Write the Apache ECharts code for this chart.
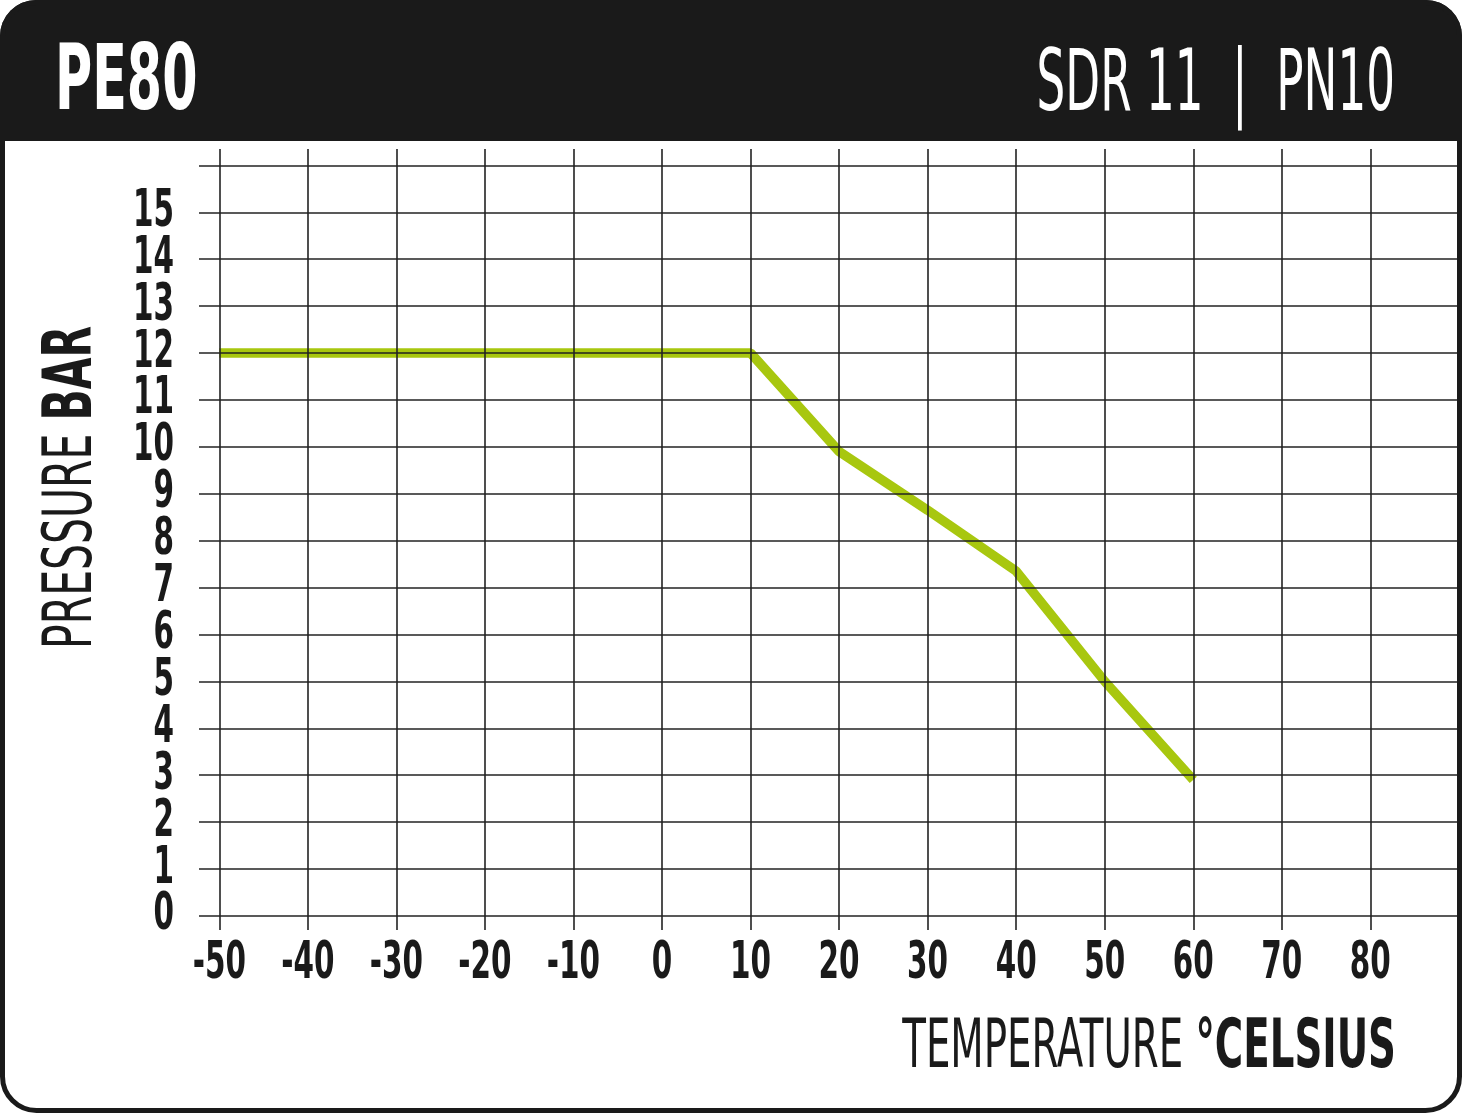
<!DOCTYPE html>
<html><head><meta charset="utf-8">
<script src="https://cdn.jsdelivr.net/npm/echarts@6/dist/echarts.min.js"></script>
<style>html,body{margin:0;padding:0;background:#fff}#c{width:1462px;height:1113px}</style>
</head><body><div id="c"></div>
<script>
// ---- data ----
const temperatures = [-50, 10, 20, 30, 40, 50, 60];
const pressures    = [12, 12, 9.9, 8.65, 7.35, 5.0, 2.9];
const xTickValues  = [-50, -40, -30, -20, -10, 0, 10, 20, 30, 40, 50, 60, 70, 80];
const xTickLabels  = ['-50', '-40', '-30', '-20', '-10', '0', '10', '20', '30', '40', '50', '60', '70', '80'];
const yTickValues  = [0, 1, 2, 3, 4, 5, 6, 7, 8, 9, 10, 11, 12, 13, 14, 15];
const yTickLabels  = ['0', '1', '2', '3', '4', '5', '6', '7', '8', '9', '10', '11', '12', '13', '14', '15'];
const yGridValues  = [0, 1, 2, 3, 4, 5, 6, 7, 8, 9, 10, 11, 12, 13, 14, 15, 16];
const titleLeft  = 'PE80';
const titleRight = 'SDR 11  |  PN10';
const yNameLight = 'PRESSURE ';
const yNameBold  = 'BAR';
const xNameLight = 'TEMPERATURE ';
const xNameBold  = '°CELSIUS';

// ---- styling helpers ----
const FAM = '"DejaVu Sans Condensed", "Liberation Sans Narrow", sans-serif';
const INK = '#1a1a1a';
const GREEN = '#a8c70f';
const ctx2d = document.createElement('canvas').getContext('2d');
function inkW(weight, size, text) {
  ctx2d.font = weight + ' ' + size + 'px ' + FAM;
  const m = ctx2d.measureText(text);
  return m.actualBoundingBoxLeft + m.actualBoundingBoxRight;
}
function advW(weight, size, text) {
  ctx2d.font = weight + ' ' + size + 'px ' + FAM;
  return ctx2d.measureText(text).width;
}

const peSize = 90, sdrSize = 86, nameSize = 68, tickSize = 52;
const peScale = 136 / inkW('bold', peSize, titleLeft);
const sdrScale = 353 / inkW('normal', sdrSize, titleRight);
const yNameScale = 319 / (advW('normal', nameSize, yNameLight) + inkW('bold', nameSize, yNameBold));
const xNameScale = 488 / (advW('normal', nameSize, xNameLight) + inkW('bold', nameSize, xNameBold));
const tickScale = 51 / inkW('bold', tickSize, '-50');

function tickText(txt, x, y, align) {
  return {type: 'text', x: x, y: y, scaleX: tickScale,
          style: {text: txt, fill: INK, fontFamily: FAM, fontWeight: 'bold', fontSize: tickSize,
                  align: align, verticalAlign: 'middle'}};
}

const chart = echarts.init(document.getElementById('c'), null, {renderer: 'canvas'});

chart.setOption({
  animation: false,
  backgroundColor: '#fff',
  grid: {left: 199, right: 4, top: 149, bottom: 183, containLabel: false},
  xAxis: {
    type: 'value', min: -52.29, max: 89.9,
    axisLine: {show: false}, axisTick: {show: false}, splitLine: {show: false}, axisLabel: {show: false}
  },
  yAxis: {
    type: 'value', min: -0.3, max: 16.35,
    axisLine: {show: false}, axisTick: {show: false}, splitLine: {show: false}, axisLabel: {show: false}
  },
  series: [
    {
      type: 'line', data: [], z: 1, silent: true,
      markLine: {
        silent: true, symbol: ['none', 'none'], label: {show: false},
        emphasis: {disabled: true}, animation: false,
        lineStyle: {color: '#222', width: 1.6, type: 'solid'},
        data: xTickValues.map(v => ({xAxis: v})).concat(yGridValues.map(v => ({yAxis: v})))
      }
    },
    {
      type: 'line', z: 3, silent: true, symbol: 'none',
      data: temperatures.map((t, i) => [t, pressures[i]]),
      lineStyle: {color: GREEN, width: 9.5}
    },
    {
      type: 'custom', name: 'xTicks', silent: true, clip: false, z: 4,
      data: xTickValues.map(v => [v, 0]),
      renderItem: function (params, api) {
        const p = api.coord([api.value(0), api.value(1)]);
        const bottom = params.coordSys.y + params.coordSys.height;
        return tickText(xTickLabels[params.dataIndex], p[0], bottom + 34, 'center');
      }
    },
    {
      type: 'custom', name: 'yTicks', silent: true, clip: false, z: 4,
      data: yTickValues.map(v => [0, v]),
      renderItem: function (params, api) {
        const p = api.coord([api.value(0), api.value(1)]);
        return tickText(yTickLabels[params.dataIndex], params.coordSys.x - 25, p[1], 'right');
      }
    }
  ],
  graphic: [
    {type: 'rect', z: 100, silent: true, shape: {x: 0, y: 0, width: 1462, height: 141, r: [36, 36, 0, 0]},
     style: {fill: INK}},
    {type: 'rect', z: 101, silent: true, shape: {x: 2.5, y: 2.5, width: 1457, height: 1108, r: 34},
     style: {fill: 'none', stroke: INK, lineWidth: 5}},
    {type: 'text', z: 102, silent: true, x: 55, y: 86, scaleX: peScale,
     style: {text: titleLeft, fill: '#fff', fontFamily: FAM, fontWeight: 'bold', fontSize: peSize,
             align: 'left', verticalAlign: 'middle'}},
    {type: 'text', z: 102, silent: true, x: 1395, y: 88, scaleX: sdrScale,
     style: {text: titleRight, fill: '#fff', fontFamily: FAM, fontWeight: 'normal', fontSize: sdrSize,
             align: 'right', verticalAlign: 'middle'}},
    {type: 'text', z: 102, silent: true, x: 73, y: 487.5, rotation: Math.PI / 2, scaleX: yNameScale,
     style: {text: '{a|' + yNameLight + '}{b|' + yNameBold + '}', fill: INK, align: 'center', verticalAlign: 'middle',
             rich: {a: {fontFamily: FAM, fontWeight: 'normal', fontSize: nameSize, fill: INK},
                    b: {fontFamily: FAM, fontWeight: 'bold', fontSize: nameSize, fill: INK}}}},
    {type: 'text', z: 102, silent: true, x: 1396, y: 1049, scaleX: xNameScale,
     style: {text: '{a|' + xNameLight + '}{b|' + xNameBold + '}', fill: INK, align: 'right', verticalAlign: 'middle',
             rich: {a: {fontFamily: FAM, fontWeight: 'normal', fontSize: nameSize, fill: INK},
                    b: {fontFamily: FAM, fontWeight: 'bold', fontSize: nameSize, fill: INK}}}}
  ]
});
</script>
</body></html>
